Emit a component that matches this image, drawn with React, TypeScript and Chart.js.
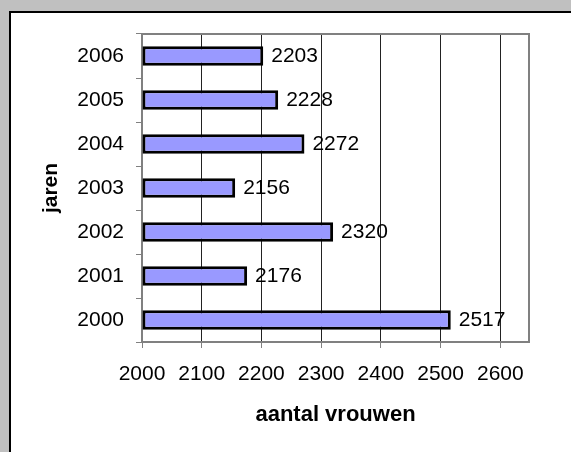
import React, { useEffect, useRef } from 'react';
import { Chart, registerables } from 'chart.js';

Chart.register(...registerables);

const years = ['2000', '2001', '2002', '2003', '2004', '2005', '2006'];
const counts = [2517, 2176, 2320, 2156, 2272, 2228, 2203];
const xMin = 2000;
const xMax = 2648;
const xStep = 100;
const xTitle = 'aantal vrouwen';
const yTitle = 'jaren';

const FONT = '"Liberation Sans", Arial, sans-serif';

const valueLabels = {
  id: 'valueLabels',
  afterDatasetsDraw(chart: any) {
    const ctx = chart.ctx;
    const meta = chart.getDatasetMeta(0);
    ctx.save();
    ctx.font = `21px ${FONT}`;
    ctx.fillStyle = '#000';
    ctx.textAlign = 'left';
    ctx.textBaseline = 'middle';
    meta.data.forEach((bar: any, i: number) => {
      ctx.fillText(String(counts[i]), bar.x + 8, bar.y);
    });
    ctx.restore();
  },
};

const plotFrame = {
  id: 'plotFrame',
  afterDraw(chart: any) {
    const { ctx, chartArea } = chart;
    ctx.save();
    ctx.strokeStyle = '#808080';
    ctx.lineWidth = 2;
    ctx.beginPath();
    ctx.moveTo(chartArea.left, chartArea.top);
    ctx.lineTo(chartArea.right, chartArea.top);
    ctx.lineTo(chartArea.right, chartArea.bottom);
    ctx.stroke();
    ctx.restore();
  },
};

export default function App() {
  const ref = useRef<HTMLCanvasElement>(null);

  useEffect(() => {
    if (!ref.current) return;
    const chart = new Chart(ref.current, {
      type: 'bar',
      data: {
        labels: years,
        datasets: [
          {
            data: counts,
            backgroundColor: '#9999ff',
            borderColor: '#000',
            borderWidth: 3,
            borderSkipped: false,
            barPercentage: 0.445,
            categoryPercentage: 1,
            base: xMin,
          } as any,
        ],
      },
      options: {
        indexAxis: 'y',
        responsive: false,
        animation: false,
        devicePixelRatio: 1,
        layout: { padding: { left: 0, top: 34, right: 42, bottom: 0 } },
        plugins: {
          legend: { display: false },
          tooltip: { enabled: false },
          title: { display: false },
        },
        scales: {
          x: {
            type: 'linear',
            position: 'bottom',
            min: xMin,
            max: xMax,
            ticks: {
              stepSize: xStep,
              includeBounds: false,
              color: '#000',
              font: { family: FONT, size: 21 },
              padding: 14,
              maxRotation: 0,
              callback: (v: any) => String(v),
            },
            grid: { color: '#222', lineWidth: 1, tickColor: '#808080', tickLength: 6 },
            border: { color: '#808080', width: 2 },
            title: {
              display: true,
              text: xTitle,
              color: '#000',
              font: { family: FONT, size: 22, weight: 'bold' },
              padding: { top: 0, bottom: 24 },
            },
            afterFit: (s: any) => {
              s.height = 110;
            },
          },
          y: {
            type: 'category',
            reverse: true,
            ticks: {
              color: '#000',
              font: { family: FONT, size: 21 },
              padding: 12,
            },
            grid: {
              offset: true,
              drawOnChartArea: false,
              drawTicks: true,
              tickLength: 6,
              color: '#808080',
            },
            border: { color: '#808080', width: 2 },
            title: {
              display: true,
              text: yTitle,
              color: '#000',
              font: { family: FONT, size: 21, weight: 'bold' },
              padding: { top: 39, bottom: 0 },
            },
            afterFit: (s: any) => {
              s.width = 142;
            },
          },
        },
      } as any,
      plugins: [valueLabels, plotFrame],
    });
    return () => chart.destroy();
  }, []);

  return (
    <div
      style={{
        position: 'fixed',
        left: 0,
        top: 0,
        width: 571,
        height: 452,
        background: '#c0c0c0',
        overflow: 'hidden',
      }}
    >
      <div
        style={{
          position: 'absolute',
          left: 9,
          top: 11,
          right: 0,
          bottom: 0,
          background: '#fff',
          borderTop: '2px solid #000',
          borderLeft: '2px solid #000',
        }}
      />
      <canvas
        ref={ref}
        width={571}
        height={452}
        style={{ position: 'absolute', left: 0, top: 0, width: 571, height: 452 }}
      />
    </div>
  );
}
